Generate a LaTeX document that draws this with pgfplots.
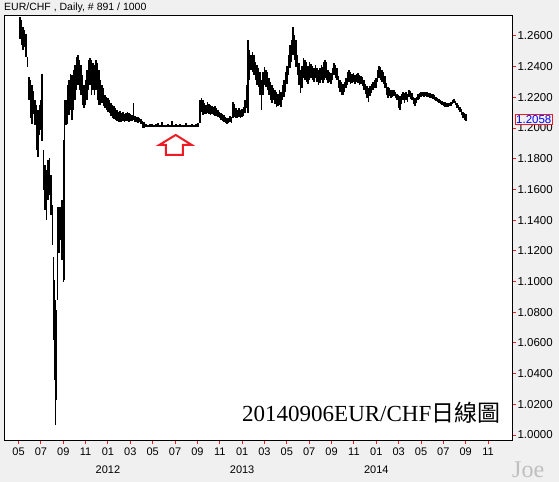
\documentclass[border=0pt]{standalone}
\usepackage{fontspec}
\setmainfont{Liberation Sans}
\newfontfamily\seriffont{Liberation Serif}
\newfontfamily\cjk{Noto Sans CJK TC}
\usepackage{pgfplots}
\usepackage{pgfplotstable}
\pgfplotsset{compat=1.18}
\definecolor{bg}{RGB}{240,240,240}
\definecolor{arrowred}{RGB}{237,28,36}
\definecolor{lastblue}{RGB}{0,0,255}
% x = months since Jan 2011 (4 = May 2011), lo/hi = daily range of EUR/CHF
\pgfplotstableread{
x lo hi
4.13 1.2580 1.2724
4.27 1.2541 1.2704
4.40 1.2509 1.2659
4.54 1.2528 1.2639
4.67 1.2463 1.2613
4.81 1.2398 1.2463
4.94 1.2183 1.2333
5.07 1.2066 1.2313
5.21 1.2027 1.2281
5.34 1.2092 1.2242
5.48 1.2020 1.2183
5.61 1.1857 1.2150
5.74 1.1812 1.2118
5.88 1.1955 1.2150
6.01 1.1988 1.2183
6.10 1.1916 1.2352
6.24 1.1597 1.1857
6.37 1.1466 1.1760
6.50 1.1401 1.1727
6.64 1.1532 1.1792
6.77 1.1564 1.1805
6.91 1.1434 1.1694
7.04 1.1238 1.1499
7.13 1.0619 1.1160
7.22 1.0359 1.1010
7.31 1.0066 1.0880
7.40 1.0229 1.0815
7.49 1.0880 1.1486
7.62 1.1186 1.1486
7.76 1.1271 1.1486
7.89 1.1141 1.1532
8.03 1.0997 1.1922
8.11 1.1010 1.2183
8.25 1.2020 1.2183
8.38 1.2027 1.2281
8.52 1.2085 1.2313
8.65 1.2118 1.2352
8.79 1.2053 1.2346
8.92 1.2118 1.2378
9.05 1.2183 1.2411
9.19 1.2248 1.2463
9.32 1.2281 1.2476
9.46 1.2248 1.2444
9.59 1.2216 1.2411
9.72 1.2150 1.2346
9.86 1.2131 1.2281
9.99 1.2150 1.2313
10.13 1.2183 1.2378
10.26 1.2248 1.2444
10.40 1.2281 1.2457
10.53 1.2216 1.2444
10.66 1.2248 1.2424
10.80 1.2216 1.2411
10.93 1.2248 1.2444
11.07 1.2183 1.2424
11.20 1.2150 1.2378
11.34 1.2150 1.2313
11.47 1.2164 1.2281
11.60 1.2144 1.2261
11.74 1.2131 1.2216
11.87 1.2118 1.2203
12.01 1.2105 1.2196
12.14 1.2098 1.2183
12.27 1.2079 1.2164
12.41 1.2066 1.2150
12.54 1.2059 1.2144
12.68 1.2053 1.2131
12.81 1.2046 1.2118
12.95 1.2040 1.2105
13.08 1.2040 1.2111
13.21 1.2040 1.2098
13.35 1.2046 1.2105
13.48 1.2040 1.2092
13.62 1.2046 1.2098
13.75 1.2046 1.2105
13.88 1.2040 1.2098
14.02 1.2046 1.2092
14.15 1.2046 1.2085
14.29 1.2053 1.2164
14.42 1.2040 1.2079
14.56 1.2040 1.2072
14.69 1.2033 1.2072
14.82 1.2040 1.2066
14.96 1.2027 1.2059
15.09 1.2001 1.2046
15.23 1.2001 1.2040
15.40 1.2007 1.2025
15.58 1.2005 1.2022
15.76 1.2006 1.2024
15.94 1.2007 1.2027
16.12 1.2005 1.2022
16.30 1.2006 1.2024
16.48 1.2007 1.2030
16.66 1.2005 1.2022
16.84 1.2006 1.2040
17.01 1.2006 1.2023
17.19 1.2005 1.2022
17.37 1.2006 1.2025
17.55 1.2005 1.2023
17.73 1.2006 1.2045
17.91 1.2005 1.2022
18.09 1.2006 1.2024
18.27 1.2005 1.2022
18.45 1.2006 1.2025
18.62 1.2005 1.2023
18.80 1.2005 1.2022
18.98 1.2006 1.2030
19.16 1.2005 1.2023
19.34 1.2005 1.2022
19.52 1.2006 1.2024
19.70 1.2005 1.2022
19.88 1.2006 1.2026
20.06 1.2007 1.2030
20.23 1.2033 1.2183
20.37 1.2105 1.2196
20.50 1.2085 1.2183
20.64 1.2092 1.2164
20.77 1.2092 1.2150
20.91 1.2098 1.2170
21.04 1.2092 1.2157
21.17 1.2085 1.2150
21.31 1.2092 1.2144
21.44 1.2085 1.2137
21.58 1.2079 1.2144
21.71 1.2079 1.2131
21.85 1.2072 1.2118
21.98 1.2066 1.2105
22.11 1.2053 1.2098
22.25 1.2046 1.2092
22.38 1.2040 1.2085
22.52 1.2033 1.2072
22.65 1.2027 1.2066
22.78 1.2033 1.2066
22.92 1.2040 1.2079
23.05 1.2033 1.2072
23.19 1.2066 1.2170
23.32 1.2072 1.2157
23.46 1.2066 1.2131
23.59 1.2066 1.2118
23.72 1.2072 1.2131
23.86 1.2066 1.2118
23.99 1.2072 1.2124
24.13 1.2079 1.2137
24.26 1.2098 1.2183
24.39 1.2131 1.2281
24.53 1.2098 1.2574
24.66 1.2313 1.2509
24.80 1.2378 1.2476
24.93 1.2365 1.2496
25.07 1.2346 1.2476
25.20 1.2313 1.2431
25.33 1.2281 1.2411
25.47 1.2268 1.2391
25.60 1.2216 1.2365
25.74 1.2118 1.2313
25.87 1.2216 1.2365
26.00 1.2281 1.2398
26.14 1.2268 1.2378
26.27 1.2248 1.2365
26.41 1.2216 1.2326
26.54 1.2183 1.2300
26.68 1.2164 1.2281
26.81 1.2183 1.2261
26.94 1.2157 1.2248
27.08 1.2137 1.2235
27.21 1.2144 1.2222
27.35 1.2150 1.2248
27.48 1.2137 1.2235
27.61 1.2183 1.2281
27.75 1.2203 1.2313
27.88 1.2235 1.2365
28.02 1.2287 1.2404
28.15 1.2346 1.2476
28.29 1.2392 1.2541
28.42 1.2431 1.2574
28.55 1.2476 1.2659
28.69 1.2444 1.2607
28.82 1.2398 1.2574
28.96 1.2346 1.2476
29.09 1.2281 1.2424
29.22 1.2229 1.2378
29.36 1.2261 1.2404
29.49 1.2326 1.2457
29.63 1.2313 1.2444
29.76 1.2300 1.2431
29.90 1.2287 1.2404
30.03 1.2313 1.2431
30.16 1.2326 1.2418
30.30 1.2313 1.2404
30.43 1.2300 1.2391
30.57 1.2326 1.2411
30.70 1.2300 1.2391
30.83 1.2281 1.2378
30.97 1.2294 1.2391
31.10 1.2313 1.2411
31.24 1.2294 1.2398
31.33 1.2313 1.2431
31.42 1.2326 1.2444
31.55 1.2313 1.2431
31.68 1.2294 1.2378
31.82 1.2300 1.2365
31.95 1.2287 1.2359
32.09 1.2313 1.2391
32.22 1.2346 1.2424
32.35 1.2326 1.2411
32.49 1.2313 1.2391
32.62 1.2261 1.2339
32.76 1.2235 1.2313
32.89 1.2216 1.2300
33.03 1.2216 1.2287
33.16 1.2235 1.2300
33.29 1.2261 1.2326
33.43 1.2281 1.2365
33.56 1.2300 1.2378
33.70 1.2287 1.2365
33.83 1.2294 1.2352
33.96 1.2300 1.2359
34.10 1.2287 1.2346
34.23 1.2300 1.2352
34.37 1.2294 1.2359
34.50 1.2281 1.2346
34.64 1.2287 1.2339
34.77 1.2274 1.2333
34.90 1.2248 1.2313
35.04 1.2222 1.2287
35.17 1.2196 1.2274
35.31 1.2170 1.2261
35.44 1.2209 1.2274
35.57 1.2229 1.2287
35.71 1.2248 1.2300
35.84 1.2261 1.2313
35.98 1.2261 1.2326
36.11 1.2300 1.2378
36.25 1.2326 1.2404
36.38 1.2313 1.2398
36.51 1.2300 1.2378
36.65 1.2287 1.2365
36.78 1.2261 1.2339
36.92 1.2216 1.2294
37.05 1.2196 1.2268
37.18 1.2209 1.2261
37.32 1.2196 1.2248
37.45 1.2203 1.2248
37.59 1.2209 1.2248
37.72 1.2196 1.2235
37.86 1.2183 1.2222
37.99 1.2131 1.2216
38.12 1.2118 1.2209
38.26 1.2157 1.2222
38.39 1.2183 1.2235
38.53 1.2164 1.2229
38.66 1.2183 1.2235
38.79 1.2170 1.2222
38.93 1.2203 1.2248
39.06 1.2190 1.2242
39.20 1.2183 1.2229
39.33 1.2157 1.2203
39.47 1.2144 1.2196
39.60 1.2164 1.2203
39.73 1.2183 1.2222
39.87 1.2190 1.2229
40.00 1.2203 1.2235
40.14 1.2209 1.2235
40.27 1.2203 1.2235
40.40 1.2209 1.2235
40.54 1.2203 1.2235
40.67 1.2203 1.2229
40.81 1.2196 1.2229
40.94 1.2196 1.2222
41.08 1.2190 1.2222
41.21 1.2183 1.2216
41.34 1.2177 1.2203
41.48 1.2170 1.2196
41.61 1.2164 1.2190
41.75 1.2157 1.2183
41.88 1.2150 1.2177
42.01 1.2144 1.2170
42.15 1.2137 1.2170
42.28 1.2137 1.2164
42.42 1.2137 1.2164
42.55 1.2144 1.2164
42.69 1.2144 1.2170
42.82 1.2157 1.2183
42.95 1.2164 1.2190
43.09 1.2150 1.2177
43.22 1.2131 1.2164
43.36 1.2118 1.2150
43.49 1.2105 1.2137
43.62 1.2085 1.2124
43.76 1.2066 1.2105
43.89 1.2053 1.2098
44.03 1.2046 1.2092
}\data
\begin{document}
\begin{tikzpicture}
\fill[bg] (0,0) rectangle (559bp,482bp);
\useasboundingbox (0,0) rectangle (559bp,482bp);
\node[anchor=west, inner sep=0, font=\fontsize{10.5bp}{12bp}\selectfont] at (4bp,474.5bp) {EUR/CHF , Daily, \# 891 / 1000};
\begin{axis}[
  at={(4bp,42bp)}, anchor=south west,
  scale only axis, width=508bp, height=424bp,
  xmin=2.70, xmax=48.14, ymin=0.99675, ymax=1.2730,
  clip=false,
  axis background/.style={fill=white},
  axis line style={black, line width=1bp},
  /pgf/number format/assume math mode=true,
  xtick={4,6,...,46},
  xticklabels={05,07,09,11,01,03,05,07,09,11,01,03,05,07,09,11,01,03,05,07,09,11},
  ytick={1.00,1.02,1.04,1.06,1.08,1.10,1.12,1.14,1.16,1.18,1.20,1.22,1.24,1.26},
  yticklabel={\pgfmathprintnumber[fixed,fixed zerofill,precision=4]{\tick}},
  xtick pos=bottom, ytick pos=right, yticklabel pos=right,
  tick align=outside, major tick length=4bp,
  major tick style={arrowred, line width=1bp},
  xticklabel style={font=\fontsize{11bp}{13bp}\selectfont},
  yticklabel style={font=\fontsize{11.5bp}{13bp}\selectfont, xshift=-2bp},
]
\addplot[black, line width=1.7bp, quiver={u=0, v=\thisrow{hi}-\thisrow{lo}}] table[x=x, y=lo] {\data};
\draw[arrowred, line width=2bp, line join=miter] (axis cs:18.06,1.1955) -- (axis cs:19.49,1.1890) -- (axis cs:18.69,1.1890) -- (axis cs:18.69,1.1825) -- (axis cs:17.19,1.1825) -- (axis cs:17.19,1.1890) -- (axis cs:16.59,1.1890) -- cycle;
\node[anchor=west, draw=arrowred, fill=bg, text=lastblue, inner sep=1bp, font=\fontsize{11.5bp}{13bp}\selectfont] at (axis cs:48.14,1.2058) [xshift=3bp] {1.2058};
\node[font=\fontsize{11bp}{13bp}\selectfont] at (axis cs:12,0.99675) [yshift=-30bp] {2012};
\node[font=\fontsize{11bp}{13bp}\selectfont] at (axis cs:24,0.99675) [yshift=-30bp] {2013};
\node[font=\fontsize{11bp}{13bp}\selectfont] at (axis cs:36,0.99675) [yshift=-30bp] {2014};
\end{axis}
\node[anchor=base west, inner sep=0, font=\fontsize{23bp}{26bp}\selectfont] at (242bp,60.3bp) {{\seriffont 20140906EUR/CHF}{\cjk 日線圖}};
\node[anchor=base west, inner sep=0, text=black!25, font=\seriffont\fontsize{24bp}{26bp}\selectfont] at (512bp,5bp) {Joe};
\end{tikzpicture}
\end{document}
